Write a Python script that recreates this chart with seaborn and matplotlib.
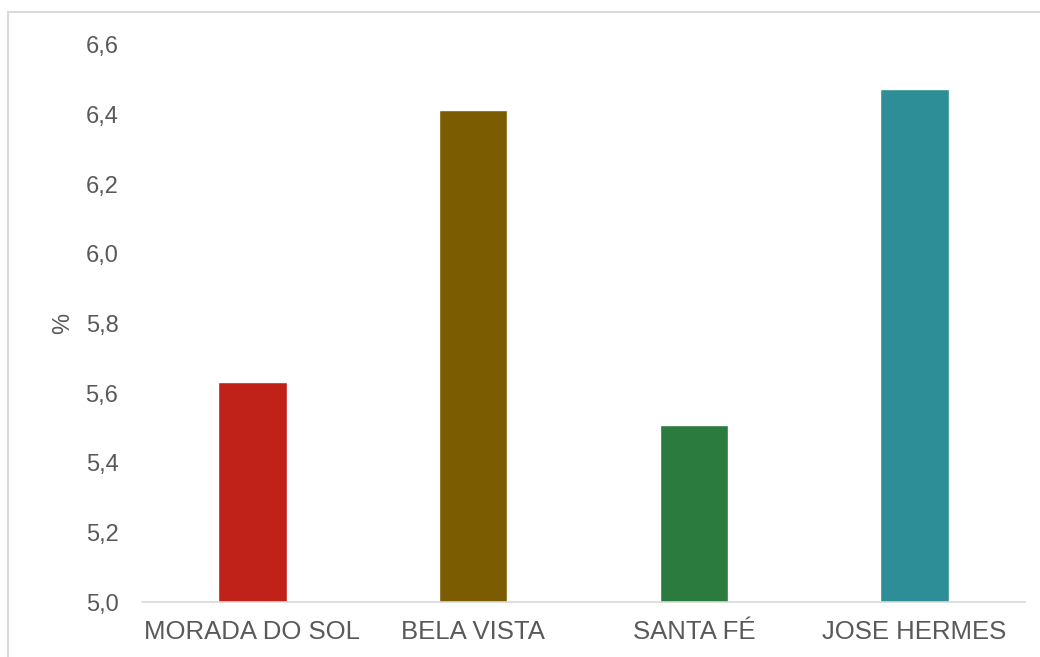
import matplotlib
matplotlib.use("Agg")
import matplotlib.pyplot as plt
import matplotlib.patches as mpatches
from matplotlib.ticker import FixedLocator, FuncFormatter
import seaborn as sns
import pandas as pd

categories = ["MORADA DO SOL", "BELA VISTA", "SANTA FÉ", "JOSE HERMES"]
values = [5.632, 6.414, 5.509, 6.475]
colors = ["#C0221A", "#7B5C00", "#2A7B3D", "#2E8E97"]
yticks = [5.0, 5.2, 5.4, 5.6, 5.8, 6.0, 6.2, 6.4, 6.6]
ylabel = "%"

sns.set_theme(style="white")
plt.rcParams["font.family"] = ["Liberation Sans", "DejaVu Sans"]

df = pd.DataFrame({"cat": categories, "val": values})

fig = plt.figure(figsize=(10.4, 6.57), dpi=100)
ax = fig.add_axes([142 / 1040, 1 - 602 / 657, (1025 - 142) / 1040, (602 - 45) / 657])

sns.barplot(data=df, x="cat", y="val", hue="cat", palette=colors, width=0.31,
            legend=False, ax=ax, saturation=1)

ax.set_ylim(5.0, 6.6)
ax.set_xlim(-0.5, 3.5)
ax.yaxis.set_major_locator(FixedLocator(yticks))
ax.yaxis.set_major_formatter(FuncFormatter(lambda v, p: f"{v:.1f}".replace(".", ",")))
ax.set_xlabel("")
ax.set_ylabel(ylabel, fontsize=17, color="#595959", labelpad=8)

for s in ["top", "right", "left"]:
    ax.spines[s].set_visible(False)
ax.spines["bottom"].set_color("#D9D9D9")
ax.spines["bottom"].set_linewidth(1.2)

ax.tick_params(axis="y", length=0, pad=17, labelsize=17, labelcolor="#595959")
ax.tick_params(axis="x", length=0, pad=13, labelsize=18.5, labelcolor="#595959")

# outer frame of the chart area
rect = mpatches.Rectangle((8 / 1040, -0.1), 1.2, 1 - 12 / 657 + 0.1,
                          transform=fig.transFigure, fill=False,
                          edgecolor="#D9D9D9", linewidth=1.5, zorder=0)
fig.patches.append(rect)

fig.savefig("out.png", dpi=100)
